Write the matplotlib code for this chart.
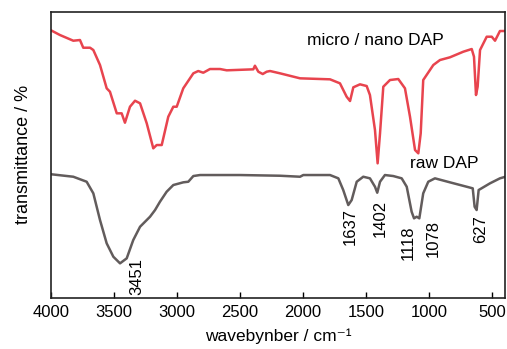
import matplotlib

matplotlib.use("Agg")
import matplotlib.pyplot as plt

plt.rcParams["font.family"] = ["Liberation Sans", "DejaVu Sans"]

# micro / nano DAP (red)
nano_wn = [3994, 3929, 3823, 3770, 3744, 3690, 3664, 3611, 3558, 3532,
           3478, 3439, 3413, 3373, 3333, 3293, 3240, 3188, 3161, 3121,
           3069, 3029, 3002, 2950, 2870, 2831, 2791, 2738, 2658, 2605,
           2394, 2381, 2354, 2319, 2288, 2261, 2182, 2023, 1785, 1706,
           1653, 1626, 1600, 1547, 1494, 1468, 1428, 1407, 1388, 1362,
           1309, 1243, 1190, 1150, 1110, 1084, 1065, 1045, 965, 912,
           833, 727, 660, 642, 626, 613, 594, 541, 501, 475, 436, 396]
nano_t = [267.3, 263, 257.3, 258, 250.3, 250.3, 248, 233, 209.7, 206.3,
          184.7, 184.7, 175.3, 191.3, 197.3, 194.7, 174.7, 149.7, 153, 153,
          181.3, 191.3, 191.3, 209.7, 224.7, 227, 225.3, 229, 229, 227.7,
          228.7, 232.3, 226.3, 224, 226.3, 227, 224.7, 219.7, 218.7, 214.7,
          201.3, 197, 210.7, 213.7, 212, 203, 168, 134.7, 164.7, 211.3,
          218, 219, 209.7, 181.3, 148, 144.7, 164.7, 218, 233, 238,
          240.7, 246.3, 249, 241.3, 203, 211.3, 248, 261.3, 261.3, 257.3, 267, 267]

# raw DAP (gray)
raw_wn = [3994, 3823, 3717, 3664, 3611, 3558, 3505, 3452, 3399, 3347,
          3293, 3214, 3174, 3135, 3082, 3029, 2950, 2910, 2870, 2817,
          2500, 2182, 2023, 1997, 1785, 1719, 1680, 1640, 1613, 1573,
          1521, 1468, 1428, 1410, 1388, 1349, 1283, 1216, 1176, 1137,
          1118, 1097, 1076, 1045, 1005, 952, 833, 700, 652, 637,
          621, 605, 515, 436, 392]
raw_t = [123.7, 121.3, 116.3, 104.7, 78, 54.7, 41.3, 34.7, 39.7, 58,
         71.3, 81.3, 88, 96.3, 106.3, 113, 115.7, 116.3, 122, 123,
         123, 122.3, 121.3, 123, 123, 119.7, 108, 93, 98, 116.3,
         121.3, 119.7, 111.3, 105.3, 116.3, 123, 122, 119.7, 111.3, 86.3,
         79.7, 81.3, 79.7, 104.7, 116.3, 119.7, 115.7, 111.3, 109.7, 91.3,
         88, 108, 114.7, 119.7, 121.3]

# peak labels: text, x position, top of text
peak_labels = ["3451", "1637", "1402", "1118", "1078", "627"]
peak_x = [3320, 1621, 1388, 1164, 965, 589]
peak_top = [40, 90, 98, 73, 78, 83]

xticks = [4000, 3500, 3000, 2500, 2000, 1500, 1000, 500]

fig = plt.figure(figsize=(5.07, 3.49), dpi=100)
ax = fig.add_axes([0.1006, 0.146, 0.8964, 0.821])

ax.plot(nano_wn, nano_t, color="#e8444e", lw=1.8, solid_joinstyle="round")
ax.plot(raw_wn, raw_t, color="#625c5c", lw=1.8, solid_joinstyle="round")

for lbl, x, y in zip(peak_labels, peak_x, peak_top):
    ax.text(x, y, lbl, rotation=90, ha="center", va="top", fontsize=12)

ax.text(1970, 258, "micro / nano DAP", ha="left", va="center", fontsize=12.5)
ax.text(1150, 135, "raw DAP", ha="left", va="center", fontsize=12.5)

ax.set_xlim(4000, 392)
ax.set_ylim(0, 286.5)
ax.set_xticks(xticks)
ax.set_yticks([])
ax.tick_params(axis="x", direction="in", length=4, width=1, labelsize=12, pad=5)
for sp in ax.spines.values():
    sp.set_linewidth(1.2)
    sp.set_color("#222222")

ax.set_xlabel("wavebynber / cm\u207b\u00b9", fontsize=12.5, labelpad=6)
ax.set_ylabel("transmittance / %", fontsize=13, labelpad=14)

fig.savefig("out.png", dpi=100)
